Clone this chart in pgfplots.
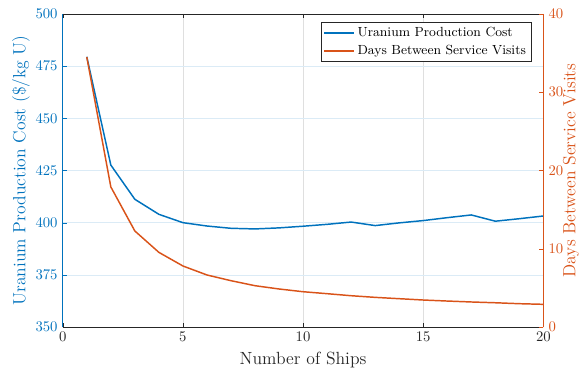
\documentclass[border=0pt]{standalone}
\usepackage{pgfplots}
\pgfplotsset{compat=1.18}
\definecolor{mblue}{rgb}{0,0.447,0.741}
\definecolor{morange}{rgb}{0.85,0.325,0.098}
\definecolor{mgray}{rgb}{0.15,0.15,0.15}
\begin{document}
\begin{tikzpicture}
\begin{axis}[
  name=ax1,
  scale only axis, width=327pt, height=213pt,
  xmin=0, xmax=20, ymin=350, ymax=500,
  xtick={0,5,10,15,20}, ytick={350,375,...,500},
  axis x line=box, axis y line*=left,
  xtick pos=both,
  tick align=inside,
  major tick length=3pt,
  x axis line style={draw=mgray},
  y axis line style={draw=mblue},
  xtick style={draw=mgray}, ytick style={draw=mblue},
  xticklabel style={text=mgray},
  yticklabel style={text=mblue},
  ylabel={Uranium Production Cost (\$/kg U)},
  ylabel style={text=mblue, font=\large},
  ylabel shift=-3pt,
  xlabel={Number of Ships},
  xlabel style={text=mgray, font=\large},
  xmajorgrids, ymajorgrids,
  x grid style={gray!25},
  y grid style={mblue!14},
]
\addplot[mblue, line width=1pt] coordinates {
(1,479.5) (2,427.6) (3,411.2) (4,404) (5,400) (6,398.4) (7,397.3) (8,397) (9,397.5) (10,398.3)
(11,399.2) (12,400.3) (13,398.6) (14,399.9) (15,401) (16,402.4) (17,403.7) (18,400.7) (19,401.9) (20,403.2)};
\end{axis}
\begin{axis}[
  scale only axis, width=327pt, height=213pt,
  xmin=0, xmax=20, ymin=0, ymax=40,
  ytick={0,10,20,30,40},
  axis x line=none, axis y line*=right,
  tick align=inside,
  major tick length=3pt,
  y axis line style={draw=morange},
  ytick style={draw=morange},
  yticklabel style={text=morange},
  ylabel={Days Between Service Visits},
  ylabel style={text=morange, font=\large},
  ylabel shift=-7pt,
  legend style={at={(0.975,0.974)}, anchor=north east, draw=mgray, font=\small, inner sep=1.5pt},
  legend image code/.code={\draw[#1, line width=1.1pt] (0pt,0pt) -- (20pt,0pt);},
  legend cell align=left,
]
\addlegendimage{draw=mblue}
\addlegendentry{Uranium Production Cost}
\addplot[draw=morange, line width=1pt] coordinates {
(1,34.5) (2,17.9) (3,12.27) (4,9.54) (5,7.8) (6,6.65) (7,5.92) (8,5.28) (9,4.86) (10,4.51)
(11,4.26) (12,4.0) (13,3.79) (14,3.62) (15,3.45) (16,3.32) (17,3.2) (18,3.1) (19,2.98) (20,2.9)};
\addlegendentry{Days Between Service Visits}
\end{axis}
\pgfresetboundingbox
\path (ax1.south west) ++(-42.7pt,-31.3pt) coordinate (bbA);
\path (ax1.north east) ++(25.6pt,9.5pt) coordinate (bbB);
\path[use as bounding box] (bbA) rectangle (bbB);
\end{tikzpicture}
\end{document}
